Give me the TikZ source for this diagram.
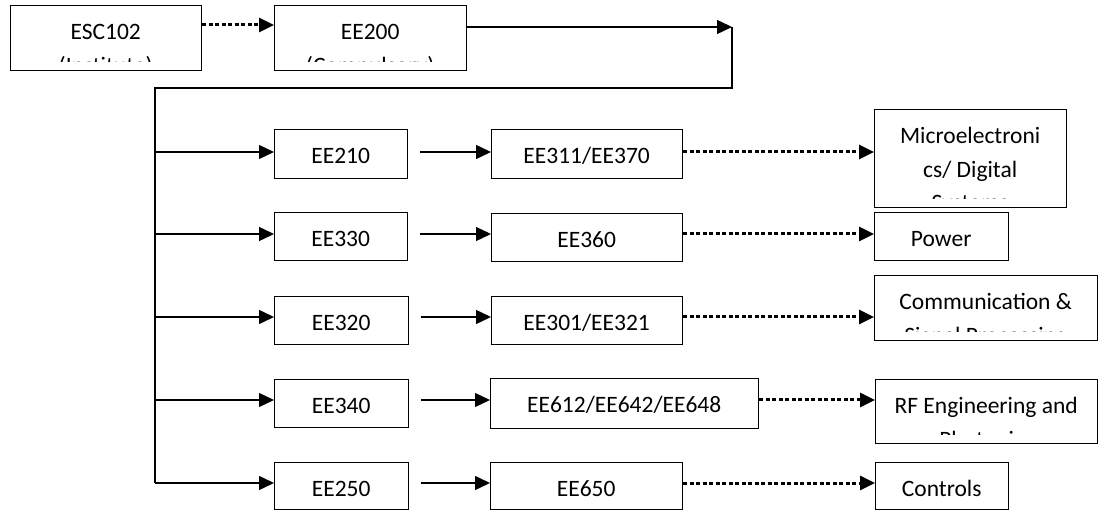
\documentclass[tikz,border=0pt]{standalone}
\usepackage{fontspec}
\setmainfont{Carlito}
\usetikzlibrary{arrows.meta}
\newcommand\boxtext[1]{\parbox[t]{400pt}{\centering\fontsize{23.5}{33.5}\selectfont #1}}
\newcommand\mybox[6]{%
  \node[textarea, minimum width=#4pt, minimum height=#5pt-8.5pt,
    path picture={\node[lbl] (#1-t) at ([yshift=-34.5pt]path picture bounding box.north) {\boxtext{#6}};}]
    (#1-area) at (#2,#3) {};
  \node[box, minimum width=#4pt, minimum height=#5pt] (#1) at (#2,#3) {};}
\begin{document}
\begin{tikzpicture}[x=1pt,y=-1pt,
  box/.style={draw, line width=1.4pt, rectangle, inner sep=0pt, anchor=north west},
  textarea/.style={rectangle, inner sep=0pt, anchor=north west},
  lbl/.style={anchor=base, inner sep=0pt},
  arr/.style={line width=1.4pt, -{Triangle[length=15pt,width=14pt]}},
  dotarr/.style={line width=3pt, dash pattern=on 4pt off 2.5pt, -{Triangle[length=15pt,width=14pt]}},
  trunk/.style={line width=1.4pt}
]
\useasboundingbox (0,0) rectangle (1098,510);

\mybox{esc}{10}{5}{191}{65}{ESC102\\(Institute)}
\mybox{ee200}{274}{5}{192}{65}{EE200\\(Compulsory)}
\mybox{e210}{274}{129}{133}{49}{EE210}
\mybox{e330}{274}{212}{133}{48}{EE330}
\mybox{e320}{274}{296}{134}{48}{EE320}
\mybox{e340}{274}{379}{134}{48}{EE340}
\mybox{e250}{274}{462}{134}{47}{EE250}
\mybox{e311}{491}{129}{191}{49}{EE311/EE370}
\mybox{e360}{491}{213}{191}{48}{EE360}
\mybox{e301}{491}{296}{191}{48}{EE301/EE321}
\mybox{e612}{490}{378}{268}{50}{EE612/EE642/EE648}
\mybox{e650}{490}{462}{192}{47}{EE650}
\mybox{micro}{874}{109}{192}{98}{Microelectroni\\cs/ Digital\\Systems}
\mybox{power}{874}{212}{134}{48}{Power}
\mybox{comm}{874}{275}{223}{65}{Communication \&\\Signal Processing}
\mybox{rf}{875}{379}{222}{64}{RF Engineering and\\Photonics}
\mybox{ctrl}{875}{462}{133}{47}{Controls}

\coordinate (r0) at (0,25);
\coordinate (t1) at (732,27);
\coordinate (t2) at (732,88);
\coordinate (t3) at (155,88);
\coordinate (y1) at (155,152);
\coordinate (y2) at (155,234);
\coordinate (y3) at (155,317);
\coordinate (y4) at (155,400);
\coordinate (y5) at (155,483);

\draw[dotarr] (esc.east |- r0) -- (ee200.west |- r0);
\draw[arr] (ee200.east |- t1) -- (t1);
\draw[trunk] (t1) -- (t2) -- (t3) -- (y5);

\foreach \r/\a/\b/\c in {y1/e210/e311/micro, y2/e330/e360/power, y3/e320/e301/comm, y4/e340/e612/rf, y5/e250/e650/ctrl} {
  \draw[arr] (\r) -- (\r -| \a.west);
  \draw[arr, shorten <=12pt] (\r -| \a.east) -- (\r -| \b.west);
  \draw[dotarr] (\r -| \b.east) -- (\r -| \c.west);
}
\end{tikzpicture}
\end{document}
